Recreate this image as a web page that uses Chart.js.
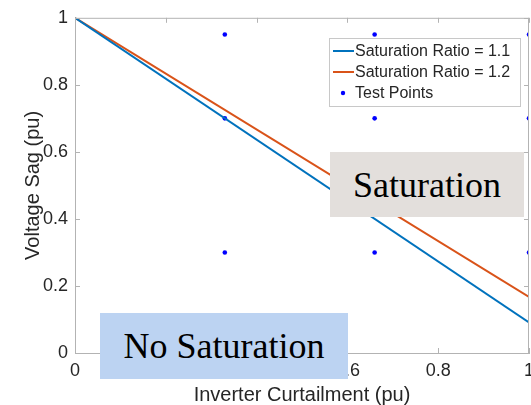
<!DOCTYPE html>
<html>
<head>
<meta charset="utf-8">
<script src="https://cdn.jsdelivr.net/npm/chart.js@4/dist/chart.umd.min.js"></script>
<style>
  html, body { margin: 0; padding: 0; background: #fff; overflow: hidden; }
  #wrap { position: relative; width: 545px; height: 405px; }
  .note {
    position: absolute;
    font-family: "Liberation Serif", "Times New Roman", serif;
    font-size: 36px;
    color: #000;
    display: flex; align-items: center; justify-content: center;
  }
  #sat { left: 330px; top: 152px; width: 194px; height: 65px; background: #e3dfdc; }
  #nosat { left: 100px; top: 313px; width: 248px; height: 66px; background: #bcd3f2; }
</style>
</head>
<body>
<div id="wrap">
  <canvas id="chart" width="545" height="405"></canvas>
  <div class="note" id="sat">Saturation</div>
  <div class="note" id="nosat">No Saturation</div>
</div>
<script>
// line end points (curtailment, sag)
var curtailment = [0, 1];
var sagRatio11 = [1, 0.091];
var sagRatio12 = [1, 0.167];

// test point grid
var testX = [0.33, 0.66, 1];
var testY = [0.95, 0.7, 0.3];

var xTicks = [0, 0.2, 0.4, 0.6, 0.8, 1];
var yTicks = [0, 0.2, 0.4, 0.6, 0.8, 1];

var blue = '#0072BD', orange = '#D95319', dotBlue = '#0000FF';
var axisGray = '#b3b3b3', textGray = '#262626';

function pairs(xs, ys) {
  return xs.map(function(x, i){ return {x: x, y: ys[i]}; });
}
var testPoints = [];
testX.forEach(function(x){
  testY.forEach(function(y){ testPoints.push({x: x, y: y}); });
});

// matlab style box, inward ticks and legend
var boxPlugin = {
  id: 'box',
  afterDraw: function(chart){
    var ctx = chart.ctx, a = chart.chartArea;
    var sx = chart.scales.x, sy = chart.scales.y;
    ctx.save();
    ctx.strokeStyle = axisGray;
    ctx.lineWidth = 1;
    ctx.beginPath();
    ctx.moveTo(a.left, a.top + 0.5); ctx.lineTo(a.right, a.top + 0.5);
    ctx.moveTo(a.right - 0.5, a.top); ctx.lineTo(a.right - 0.5, a.bottom);
    xTicks.forEach(function(v){
      var px = Math.round(sx.getPixelForValue(v)) + 0.5;
      ctx.moveTo(px, a.bottom); ctx.lineTo(px, a.bottom - 5);
      ctx.moveTo(px, a.top); ctx.lineTo(px, a.top + 5);
    });
    yTicks.forEach(function(v){
      var py = Math.round(sy.getPixelForValue(v)) + 0.5;
      ctx.moveTo(a.left, py); ctx.lineTo(a.left + 5, py);
      ctx.moveTo(a.right, py); ctx.lineTo(a.right - 5, py);
    });
    ctx.stroke();

    // legend
    var lx = 329.5, ly = 38.5, lw = 191, lh = 68;
    ctx.fillStyle = '#fff';
    ctx.fillRect(lx, ly, lw, lh);
    ctx.strokeStyle = '#c8c8c8';
    ctx.strokeRect(lx, ly, lw, lh);
    ctx.font = '16px "Liberation Sans", Arial, sans-serif';
    ctx.textBaseline = 'middle';
    ctx.fillStyle = textGray;
    var rows = [51, 72, 93];
    chart.data.datasets.forEach(function(ds, i){
      var y = rows[i];
      if (ds.showLine === false) {
        ctx.fillStyle = ds.backgroundColor;
        ctx.beginPath(); ctx.arc(343, y, 2.2, 0, Math.PI * 2); ctx.fill();
      } else {
        ctx.strokeStyle = ds.borderColor; ctx.lineWidth = 2;
        ctx.beginPath(); ctx.moveTo(333, y); ctx.lineTo(354, y); ctx.stroke();
      }
      ctx.fillStyle = textGray;
      ctx.fillText(ds.label, 355, y + 1);
    });
    ctx.restore();
  }
};

var tickFont = { family: '"Liberation Sans", Arial, sans-serif', size: 18 };
var titleFont = { family: '"Liberation Sans", Arial, sans-serif', size: 20 };

new Chart(document.getElementById('chart'), {
  type: 'scatter',
  data: {
    datasets: [
      { label: 'Saturation Ratio = 1.1', data: pairs(curtailment, sagRatio11), showLine: true,
        borderColor: blue, backgroundColor: blue, borderWidth: 2, pointRadius: 0 },
      { label: 'Saturation Ratio = 1.2', data: pairs(curtailment, sagRatio12), showLine: true,
        borderColor: orange, backgroundColor: orange, borderWidth: 2, pointRadius: 0 },
      { label: 'Test Points', data: testPoints, showLine: false,
        backgroundColor: dotBlue, borderColor: dotBlue, pointRadius: 2.3, borderWidth: 0 }
    ]
  },
  options: {
    responsive: false,
    animation: false,
    layout: { padding: { top: 16, right: 16, left: 0, bottom: 0 } },
    plugins: { legend: { display: false }, tooltip: { enabled: false } },
    scales: {
      x: {
        type: 'linear', min: 0, max: 1,
        afterFit: function(s){ s.height = 52; },
        afterBuildTicks: function(s){ s.ticks = xTicks.map(function(v){ return {value: v}; }); },
        grid: { drawOnChartArea: false, drawTicks: false },
        border: { color: axisGray },
        ticks: { font: tickFont, color: textGray, padding: 7, maxRotation: 0,
                 callback: function(v){ return +v.toFixed(1); } },
        title: { display: true, text: 'Inverter Curtailment (pu)', font: titleFont, color: textGray,
                 padding: { top: 0, bottom: -2 } }
      },
      y: {
        type: 'linear', min: 0, max: 1,
        afterFit: function(s){ s.width = 75; },
        afterBuildTicks: function(s){ s.ticks = yTicks.map(function(v){ return {value: v}; }); },
        grid: { drawOnChartArea: false, drawTicks: false },
        border: { color: axisGray },
        ticks: { font: tickFont, color: textGray, padding: 7,
                 callback: function(v){ return +v.toFixed(1); } },
        title: { display: true, text: 'Voltage Sag (pu)', font: titleFont, color: textGray,
                 padding: { top: 21, bottom: 0 } }
      }
    }
  },
  plugins: [boxPlugin]
});
</script>
</body>
</html>
